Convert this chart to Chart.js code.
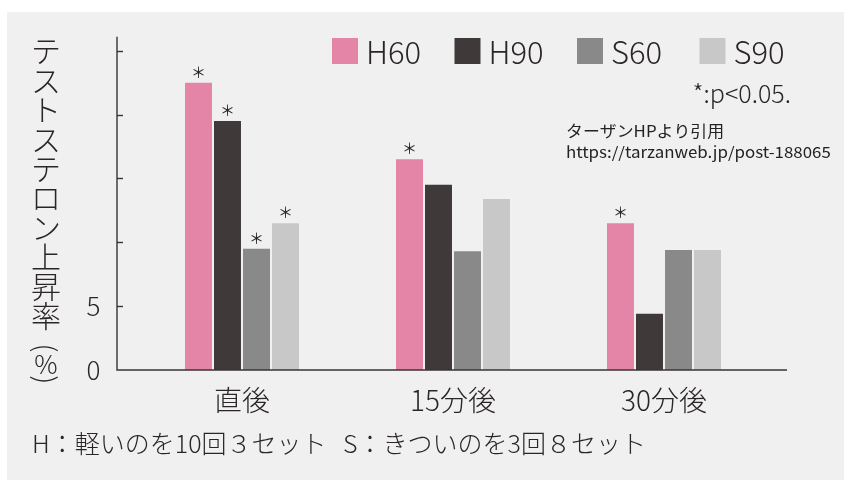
<!DOCTYPE html>
<html><head><meta charset="utf-8">
<script src="https://cdn.jsdelivr.net/npm/chart.js@4/dist/chart.umd.min.js"></script>
<style>html,body{margin:0;padding:0;background:#fff}canvas{display:block}</style>
</head><body>
<canvas id="c" width="858" height="486"></canvas>
<script>
// ---- data ----
const categories = ['直後', '15分後', '30分後'];
const seriesNames = ['H60', 'H90', 'S60', 'S90'];
const H60 = [22.5, 16.5, 11.5];
const H90 = [19.5, 14.5, 4.4];
const S60 = [9.5, 9.3, 9.4];
const S90 = [11.5, 13.4, 9.4];
const sigH60 = [true, true, true];
const sigH90 = [true, false, false];
const sigS60 = [true, false, false];
const sigS90 = [true, false, false];
const yTickValues = [0, 5, 10, 15, 20, 25];
const yTickLabels = ['0', '5'];
const yTitle = 'テストステロン上昇率（%）';
const footnotes = ['H：軽いのを10回３セット', 'S：きついのを3回８セット'];
const pNote = '*:p<0.05.';
const sourceNote = ['ターザンHPより引用', 'https://tarzanweb.jp/post-188065'];

// ---- styles ----
const colors = ['#e484a7', '#3f3939', '#898989', '#c8c8c8'];
const FONT = '"Noto Sans CJK JP", "Noto Sans", sans-serif';
const INK = '#2b2626';

const seriesValues = [H60, H90, S60, S90];
const seriesSig = [sigH60, sigH90, sigS60, sigS90];

const deco = {
  id: 'deco',
  beforeDraw(chart) {
    const ctx = chart.ctx;
    ctx.save();
    ctx.fillStyle = '#ffffff';
    ctx.fillRect(0, 0, chart.width, chart.height);
    ctx.fillStyle = '#f0f0f0';
    ctx.fillRect(7, 12, 837, 468);
    ctx.restore();
  },
  afterDatasetsDraw(chart) {
    const ctx = chart.ctx;
    ctx.save();
    ctx.fillStyle = INK;
    ctx.font = '15px ' + FONT;
    ctx.textAlign = 'center';
    ctx.textBaseline = 'middle';
    chart.data.datasets.forEach((ds, i) => {
      const meta = chart.getDatasetMeta(i);
      meta.data.forEach((bar, j) => {
        if (seriesSig[i][j]) ctx.fillText('＊', bar.x, bar.y - 10.5);
      });
    });
    ctx.restore();
  },
  afterDraw(chart) {
    const ctx = chart.ctx;
    const y = chart.scales.y;
    const y0 = y.getPixelForValue(0);
    const yTop = y.getPixelForValue(y.max);
    const axX = 117, axR = 787;
    ctx.save();
    ctx.strokeStyle = '#3a3434';
    ctx.lineWidth = 1.4;
    ctx.beginPath();
    ctx.moveTo(axX, yTop);
    ctx.lineTo(axX, y0);
    ctx.lineTo(axR, y0);
    ctx.stroke();
    yTickValues.forEach(v => {
      if (v === 0) return;
      const py = Math.round(y.getPixelForValue(v)) + 0.5;
      ctx.beginPath();
      ctx.moveTo(axX, py);
      ctx.lineTo(axX + 6, py);
      ctx.stroke();
    });

    // legend built from datasets
    ctx.textBaseline = 'middle';
    ctx.textAlign = 'left';
    ctx.font = '300 31px ' + FONT;
    chart.data.datasets.forEach((ds, i) => {
      const lx = 332 + i * 122.5;
      ctx.fillStyle = ds.backgroundColor;
      ctx.fillRect(lx, 38, 26, 26);
      ctx.fillStyle = INK;
      ctx.fillText(ds.label, lx + 34, 52);
    });

    // p note
    ctx.font = '300 25px ' + FONT;
    ctx.textAlign = 'right';
    ctx.fillText(pNote, 791, 93);

    // source
    ctx.textAlign = 'left';
    ctx.fillStyle = '#222';
    ctx.save();
    ctx.translate(566, 0);
    ctx.scale(1.09, 1);
    ctx.font = '15.5px ' + FONT;
    ctx.fillText(sourceNote[0], 0, 131);
    ctx.fillText(sourceNote[1], 0, 152);
    ctx.restore();

    // footnotes
    ctx.fillStyle = INK;
    ctx.font = '300 25px ' + FONT;
    ctx.fillText(footnotes[0], 32, 443);
    ctx.fillText(footnotes[1], 343, 443);

    // vertical y title
    const chars = Array.from(yTitle);
    ctx.textAlign = 'center';
    const cx = 46;
    let idx = 0;
    chars.forEach(ch => {
      if (ch === '（' || ch === '）') {
        ctx.save();
        const cy = ch === '（' ? 348 : 380;
        ctx.translate(cx, cy);
        ctx.rotate(Math.PI / 2);
        ctx.font = '300 28px ' + FONT;
        ctx.fillText(ch === '（' ? '(' : ')', 0, 0);
        ctx.restore();
      } else if (ch === '%') {
        ctx.font = '300 26px ' + FONT;
        ctx.fillText(ch, cx, 364);
      } else {
        ctx.font = '300 30px ' + FONT;
        ctx.fillText(ch, cx, 51 + idx * 29.4);
        idx++;
      }
    });
    ctx.restore();
  }
};

new Chart(document.getElementById('c'), {
  type: 'bar',
  data: {
    labels: categories,
    datasets: seriesNames.map((name, i) => ({
      label: name,
      data: seriesValues[i],
      backgroundColor: colors[i],
      borderWidth: 0,
      categoryPercentage: 0.55,
      barPercentage: 0.93
    }))
  },
  options: {
    responsive: false,
    animation: false,
    devicePixelRatio: 1,
    layout: { padding: { top: 36.7, right: 88.5, left: 0, bottom: 0 } },
    plugins: { legend: { display: false }, tooltip: { enabled: false }, title: { display: false } },
    scales: {
      x: {
        grid: { display: false, drawTicks: false },
        border: { display: false },
        ticks: { color: INK, font: { family: FONT, size: 28, weight: '300' }, padding: 14 },
        afterFit(s) { s.height = 116; s.paddingLeft = 0; s.paddingRight = 0; }
      },
      y: {
        min: 0, max: 26.1,
        grid: { display: false, drawTicks: false },
        border: { display: false },
        ticks: {
          stepSize: 5,
          color: INK,
          font: { family: FONT, size: 26, weight: '300' },
          padding: 36,
          callback: (v) => yTickLabels.includes(String(v)) ? String(v) : ''
        },
        afterFit(s) { s.width = 136.5; s.paddingTop = 0; s.paddingBottom = 0; }
      }
    }
  },
  plugins: [deco]
});
</script>
</body></html>
